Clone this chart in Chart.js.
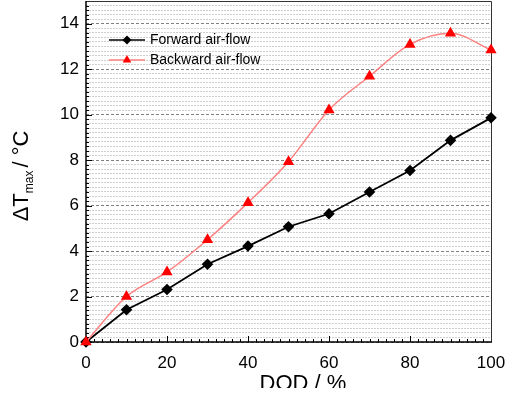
<!DOCTYPE html>
<html>
<head>
<meta charset="utf-8">
<script src="https://cdn.jsdelivr.net/npm/chart.js@4.4.0/dist/chart.umd.min.js"></script>
<style>
body { margin: 0; background: #fff; }
#chart { display: block; }
</style>
</head>
<body>
<canvas id="chart" width="509" height="398"></canvas>
<script>
const dodValues = [0, 10, 20, 30, 40, 50, 60, 70, 80, 90, 100];
const forwardDeltaT = [0, 1.42, 2.31, 3.42, 4.22, 5.07, 5.64, 6.6, 7.54, 8.87, 9.86];
const backwardDeltaT = [0, 2.0, 3.08, 4.5, 6.13, 7.93, 10.21, 11.69, 13.09, 13.58, 12.85];
const seriesNames = ['Forward air-flow', 'Backward air-flow'];
const xAxisTitle = 'DOD / %';

const FONT = '"Liberation Sans", Arial, sans-serif';

function isMajorY(v) {
    return Math.abs(v / 2 - Math.round(v / 2)) < 1e-6;
}

function isMajorX(v) {
    return Math.abs(v / 20 - Math.round(v / 20)) < 1e-6;
}

function drawMarker(ctx, style, x, y, r, color) {
    ctx.fillStyle = color;
    ctx.beginPath();
    if (style === 'rectRot') {
        ctx.moveTo(x - r, y);
        ctx.lineTo(x, y - r);
        ctx.lineTo(x + r, y);
        ctx.lineTo(x, y + r);
    } else {
        ctx.moveTo(x, y - r);
        ctx.lineTo(x + r * 0.866, y + r / 2);
        ctx.lineTo(x - r * 0.866, y + r / 2);
    }
    ctx.closePath();
    ctx.fill();
}

// inward ticks, frame and axis titles
const axisDecor = {
    id: 'axisDecor',
    beforeDatasetsDraw(chart) {
        const {ctx, chartArea: a, scales: {x, y}} = chart;
        ctx.save();
        ctx.strokeStyle = '#000';
        ctx.lineWidth = 1;
        ctx.beginPath();
        y.ticks.forEach(t => {
            const py = Math.round(y.getPixelForValue(t.value)) + 0.5;
            const len = isMajorY(t.value) ? 6 : 3;
            ctx.moveTo(a.left, py);
            ctx.lineTo(a.left + len, py);
        });
        x.ticks.forEach(t => {
            const px = Math.round(x.getPixelForValue(t.value)) + 0.5;
            const len = isMajorX(t.value) ? 6 : 3;
            ctx.moveTo(px, a.bottom);
            ctx.lineTo(px, a.bottom - len);
        });
        ctx.stroke();

        ctx.strokeStyle = '#333';
        ctx.lineWidth = 1;
        ctx.beginPath();
        ctx.moveTo(a.left, a.top + 0.5);
        ctx.lineTo(a.right + 0.5, a.top + 0.5);
        ctx.lineTo(a.right + 0.5, a.bottom);
        ctx.stroke();

        ctx.strokeStyle = '#000';
        ctx.lineWidth = 1.5;
        ctx.beginPath();
        ctx.moveTo(a.left, a.top);
        ctx.lineTo(a.left, a.bottom);
        ctx.lineTo(a.right + 1, a.bottom);
        ctx.stroke();

        // x title, cut off at the bottom like the source figure
        ctx.save();
        ctx.beginPath();
        ctx.rect(0, a.bottom + 20, chart.width, 388 - a.bottom - 20);
        ctx.clip();
        ctx.fillStyle = '#000';
        ctx.font = '22px ' + FONT;
        ctx.textAlign = 'center';
        ctx.textBaseline = 'alphabetic';
        ctx.fillText(xAxisTitle, 303, 390);
        ctx.restore();

        // y title with subscript
        ctx.fillStyle = '#000';
        ctx.translate(28, 176);
        ctx.rotate(-Math.PI / 2);
        ctx.textAlign = 'left';
        ctx.textBaseline = 'alphabetic';
        const big = '22px ' + FONT;
        const small = '12px ' + FONT;
        ctx.font = big;
        const w1 = ctx.measureText('\u0394T').width;
        const w3 = ctx.measureText('/ \u00B0C').width;
        ctx.font = small;
        const w2 = ctx.measureText('max').width + 3;
        let sx = -(w1 + w2 + w3) / 2;
        ctx.font = big;
        ctx.fillText('\u0394T', sx, 0);
        sx += w1;
        ctx.font = small;
        ctx.fillText('max', sx, 5);
        sx += w2;
        ctx.font = big;
        ctx.fillText('/ \u00B0C', sx, 0);
        ctx.restore();
    },
    afterDatasetsDraw(chart) {
        const {ctx} = chart;
        const items = [
            {name: seriesNames[0], y: 40, line: '#000', mark: '#000', style: 'rectRot', r: 4.5},
            {name: seriesNames[1], y: 60, line: '#ff8080', mark: '#ff0000', style: 'triangle', r: 5}
        ];
        ctx.save();
        items.forEach(it => {
            ctx.strokeStyle = it.line;
            ctx.lineWidth = 1.5;
            ctx.beginPath();
            ctx.moveTo(109, it.y);
            ctx.lineTo(145, it.y);
            ctx.stroke();
            drawMarker(ctx, it.style, 127, it.y, it.r, it.mark);
            ctx.fillStyle = '#000';
            ctx.font = '14px ' + FONT;
            ctx.textAlign = 'left';
            ctx.textBaseline = 'middle';
            ctx.fillText(it.name, 150, it.y);
        });
        ctx.restore();
    }
};

new Chart(document.getElementById('chart'), {
    type: 'line',
    data: {
        datasets: [{
            label: seriesNames[0],
            data: dodValues.map((v, i) => ({x: v, y: forwardDeltaT[i]})),
            borderColor: '#000',
            backgroundColor: '#000',
            pointBackgroundColor: '#000',
            pointBorderColor: '#000',
            pointStyle: 'rectRot',
            pointRadius: 4.5,
            borderWidth: 1.8,
            tension: 0,
            clip: false,
            order: 1
        }, {
            label: seriesNames[1],
            data: dodValues.map((v, i) => ({x: v, y: backwardDeltaT[i]})),
            borderColor: '#ff8080',
            backgroundColor: '#ff0000',
            pointBackgroundColor: '#ff0000',
            pointBorderColor: '#ff0000',
            pointStyle: 'triangle',
            pointRadius: 5,
            borderWidth: 1.5,
            cubicInterpolationMode: 'monotone',
            clip: false,
            order: 0
        }]
    },
    options: {
        responsive: false,
        animation: false,
        devicePixelRatio: 1,
        layout: {autoPadding: false, padding: {top: 1, right: 18, left: 0, bottom: 0}},
        plugins: {
            legend: {display: false},
            tooltip: {enabled: false}
        },
        scales: {
            x: {
                type: 'linear',
                min: 0,
                max: 100,
                afterFit: s => {
                    s.height = 56;
                    s.paddingLeft = 0;
                    s.paddingRight = 0;
                },
                grid: {display: false, drawTicks: false},
                border: {display: false},
                ticks: {
                    stepSize: 2,
                    autoSkip: false,
                    maxRotation: 0,
                    padding: 11,
                    color: '#000',
                    font: {family: FONT, size: 17},
                    callback: v => isMajorX(v) ? String(Math.round(v)) : ''
                }
            },
            y: {
                type: 'linear',
                min: 0,
                max: 15,
                afterFit: s => {
                    s.width = 86;
                    s.paddingTop = 0;
                    s.paddingBottom = 0;
                },
                grid: {
                    drawTicks: false,
                    lineWidth: 1,
                    color: c => isMajorY(c.tick.value) ? '#808080' : '#cfcfcf'
                },
                border: {
                    display: false,
                    dash: c => (c.tick && isMajorY(c.tick.value)) ? [3, 2] : [2, 1]
                },
                ticks: {
                    stepSize: 0.2,
                    autoSkip: false,
                    padding: 7,
                    color: '#000',
                    font: {family: FONT, size: 17},
                    callback: v => isMajorY(v) ? String(Math.round(v)) : ''
                }
            }
        }
    },
    plugins: [axisDecor]
});
</script>
</body>
</html>
